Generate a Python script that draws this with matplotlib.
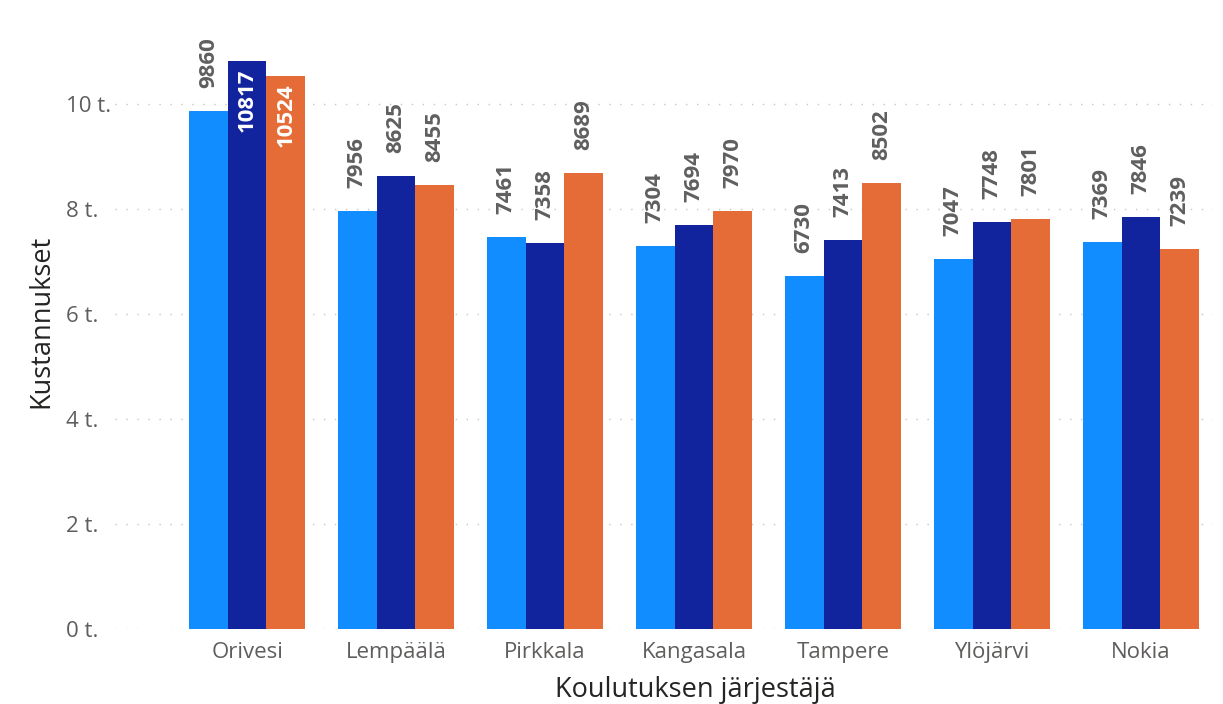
import numpy as np
import matplotlib.pyplot as plt

# --- Data ---
kunnat = ["Orivesi", "Lempäälä", "Pirkkala", "Kangasala", "Tampere", "Ylöjärvi", "Nokia"]
sarja_1 = [9860, 7956, 7461, 7304, 6730, 7047, 7369]
sarja_2 = [10817, 8625, 7358, 7694, 7413, 7748, 7846]
sarja_3 = [10524, 8455, 8689, 7970, 8502, 7801, 7239]
y_ticks = [0, 2000, 4000, 6000, 8000, 10000]
y_tick_labels = ["0 t.", "2 t.", "4 t.", "6 t.", "8 t.", "10 t."]

colors = ["#118DFF", "#12239E", "#E66C37"]
label_gray = "#605E5C"

plt.rcParams['font.family'] = ['Open Sans', 'DejaVu Sans']

fig = plt.figure(figsize=(12.23, 7.04), dpi=100)
W, H = 1223, 704
ax_left, ax_right, ax_bottom = 115, 1213, 629
ax = fig.add_axes([ax_left / W, (H - ax_bottom) / H, (ax_right - ax_left) / W, ax_bottom / H])

x = np.arange(len(kunnat))
bw = 0.26
series = [sarja_1, sarja_2, sarja_3]
for k, vals in enumerate(series):
    bars = ax.bar(x + (k - 1) * bw, vals, width=bw, color=colors[k], zorder=2)
    for b, v in zip(bars, vals):
        cx = b.get_x() + b.get_width() / 2
        if v > 10200:
            # label inside end of tall bars
            ax.annotate(f"{v}", (cx, v), xytext=(0, -5), textcoords="offset points",
                        rotation=90, ha="center", va="top", color="white",
                        fontsize=16, fontweight="bold", zorder=3)
        else:
            ax.annotate(f"{v}", (cx, v), xytext=(0, 16.5), textcoords="offset points",
                        rotation=90, ha="center", va="bottom", color="#5F5F5F",
                        fontsize=16, fontweight="bold", zorder=3)

ax.set_xlim(-0.887, 6.484)
ax.set_ylim(0, 11980)
ax.set_xticks(x)
ax.set_xticklabels(kunnat, fontsize=16, color=label_gray)
ax.set_yticks(y_ticks)
ax.set_yticklabels(y_tick_labels, fontsize=16, color=label_gray)
ax.tick_params(axis="x", length=0, pad=9.5)
ax.tick_params(axis="y", length=0, pad=(ax_left - 66) * 72 / 100)
for lab in ax.get_yticklabels():
    lab.set_ha("left")

ax.grid(axis="y", color="#C8C6C4", linewidth=1.0, linestyle=(0, (1, 6.9)), zorder=0)
for s in ax.spines.values():
    s.set_visible(False)

ax.set_xlabel("Koulutuksen järjestäjä", fontsize=19.5, color="#252423", labelpad=9)
ax.xaxis.label.set_x((695 - ax_left) / (ax_right - ax_left))
ax.set_ylabel("Kustannukset", fontsize=19.5, color="#252423", labelpad=7.5)
ax.yaxis.label.set_y((629 - 321.5) / 629)

fig.savefig("out.png", dpi=100)
